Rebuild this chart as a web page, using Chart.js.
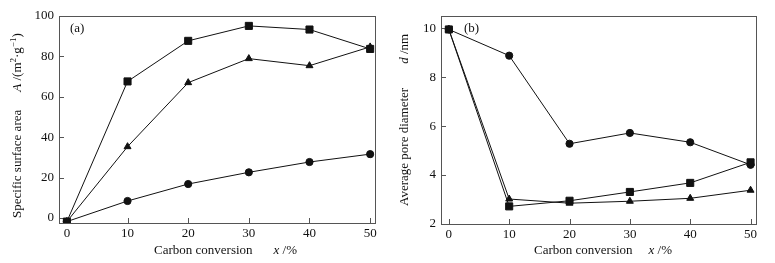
<!DOCTYPE html>
<html>
<head>
<meta charset="utf-8">
<script src="https://cdn.jsdelivr.net/npm/chart.js@4/dist/chart.umd.min.js"></script>
<style>
  html, body { margin: 0; padding: 0; background: #fff; }
  #wrap { position: relative; width: 775px; height: 263px; }
  canvas { position: absolute; top: 0; }
  #chartA { left: 0; }
  #chartB { left: 390px; }
</style>
</head>
<body>
<div id="wrap">
  <canvas id="chartA" width="390" height="263"></canvas>
  <canvas id="chartB" width="385" height="263"></canvas>
</div>
<script>
// shared x values (carbon conversion, %)
const conversion = [0, 10, 20, 30, 40, 50];
const xTickValues = [0, 10, 20, 30, 40, 50];

// (a) specific surface area, m2/g
const areaSquare = [-1.8, 67.6, 87.7, 95.1, 93.3, 83.7];
const areaTriangle = [-1.8, 35.3, 67.0, 78.9, 75.4, 84.7];
const areaCircle = [-1.8, 8.4, 16.8, 22.6, 27.7, 31.6];
const areaTicks = [0, 20, 40, 60, 80, 100];

// (b) average pore diameter, nm
const poreCircle = [9.95, 8.88, 5.28, 5.72, 5.34, 4.42];
const poreSquare = [9.95, 2.72, 2.95, 3.31, 3.68, 4.52];
const poreTriangle = [9.95, 3.02, 2.85, 2.93, 3.05, 3.38];
const poreTicks = [2, 4, 6, 8, 10];

const FONT = "'Liberation Serif', 'DejaVu Serif', serif";
const INK = "#111";

// draws box, inward ticks, and the mixed-style titles
const framePlugin = {
  id: "frame",
  beforeDatasetsDraw(chart) {
    const { ctx, chartArea: a, scales } = chart;
    ctx.save();
    ctx.strokeStyle = "#555";
    ctx.lineWidth = 1;
    ctx.strokeRect(a.left + 0.5, a.top + 0.5, a.right - a.left, a.bottom - a.top);
    ctx.beginPath();
    scales.x.ticks.forEach((t) => {
      const px = Math.round(scales.x.getPixelForValue(t.value)) + 0.5;
      ctx.moveTo(px, a.bottom);
      ctx.lineTo(px, a.bottom - 5);
    });
    scales.y.ticks.forEach((t) => {
      const py = Math.round(scales.y.getPixelForValue(t.value)) + 0.5;
      ctx.moveTo(a.left, py);
      ctx.lineTo(a.left + 5, py);
    });
    ctx.stroke();
    ctx.restore();
  },
  afterDraw(chart) {
    const opts = chart.options.plugins.frame;
    const ctx = chart.ctx;
    ctx.save();
    ctx.fillStyle = INK;
    ctx.textBaseline = "middle";
    ctx.font = "13px " + FONT;
    ctx.fillText(opts.panel, opts.panelPos[0], opts.panelPos[1]);
    drawRich(ctx, opts.xTitle, opts.xTitlePos[0], opts.xTitlePos[1], false);
    drawRich(ctx, opts.yTitle, opts.yTitlePos[0], opts.yTitlePos[1], true);
    ctx.restore();
  },
};

function drawRich(ctx, parts, x, y, rotated) {
  ctx.save();
  ctx.translate(x, y);
  if (rotated) ctx.rotate(-Math.PI / 2);
  let cx = 0;
  parts.forEach((p) => {
    if (p.gap) { cx += p.gap; return; }
    const size = p.sup ? 9 : 13;
    ctx.font = (p.it ? "italic " : "") + size + "px " + FONT;
    ctx.fillText(p.t, cx, p.sup ? -4 : 0);
    cx += ctx.measureText(p.t).width;
  });
  ctx.restore();
}

function makeChart(id, cfg) {
  const marker = (style, r) => ({
    pointStyle: style,
    pointRadius: r,
    pointHoverRadius: r,
    pointBackgroundColor: INK,
    pointBorderColor: INK,
    pointBorderWidth: 1,
    borderColor: INK,
    borderWidth: 1,
    fill: false,
    tension: 0,
  });
  return new Chart(document.getElementById(id), {
    type: "line",
    data: {
      labels: conversion,
      datasets: cfg.series.map((s) => ({
        data: conversion.map((x, i) => ({ x, y: s.data[i] })),
        ...marker(s.style, s.r),
      })),
    },
    options: {
      responsive: false,
      animation: false,
      layout: { padding: { top: 16, right: cfg.padRight, left: 0, bottom: 0 } },
      plugins: {
        legend: { display: false },
        tooltip: { enabled: false },
        frame: cfg.frame,
      },
      scales: {
        x: {
          type: "linear",
          min: cfg.xMin,
          max: cfg.xMax,
          grid: { display: false, drawTicks: false },
          border: { display: false },
          afterBuildTicks: (s) => { s.ticks = xTickValues.map((v) => ({ value: v })); },
          afterFit: (s) => { s.height = cfg.xAxisH; },
          ticks: { color: INK, font: { family: FONT, size: 13 }, padding: 3, maxRotation: 0 },
        },
        y: {
          type: "linear",
          min: cfg.yMin,
          max: cfg.yMax,
          grid: { display: false, drawTicks: false },
          border: { display: false },
          afterBuildTicks: (s) => { s.ticks = cfg.yTicks.map((v) => ({ value: v })); },
          afterFit: (s) => { s.width = cfg.yAxisW; },
          ticks: { color: INK, font: { family: FONT, size: 13 }, padding: 5 },
        },
      },
    },
    plugins: [framePlugin],
  });
}

makeChart("chartA", {
  series: [
    { data: areaSquare, style: "rect", r: 5 },
    { data: areaTriangle, style: "triangle", r: 4 },
    { data: areaCircle, style: "circle", r: 3.6 },
  ],
  xMin: -1.3, xMax: 50.8,
  yMin: -2.5, yMax: 100,
  yTicks: areaTicks,
  padRight: 15, xAxisH: 40, yAxisW: 59,
  frame: {
    panel: "(a)", panelPos: [70, 29],
    xTitle: [{ t: "Carbon conversion" }, { gap: 21 }, { t: "x", it: true }, { t: " /%" }],
    xTitlePos: [154, 251],
    yTitle: [{ t: "Specific surface area" }, { gap: 18 }, { t: "A", it: true }, { t: " /(m" }, { t: "2", sup: true },
      { t: "·g" }, { t: "−1", sup: true }, { t: ")" }],
    yTitlePos: [18, 218],
  },
});

makeChart("chartB", {
  series: [
    { data: poreCircle, style: "circle", r: 3.6 },
    { data: poreSquare, style: "rect", r: 5 },
    { data: poreTriangle, style: "triangle", r: 4 },
  ],
  xMin: -1.3, xMax: 50.9,
  yMin: 2, yMax: 10.5,
  yTicks: poreTicks,
  padRight: 19, xAxisH: 39, yAxisW: 51,
  frame: {
    panel: "(b)", panelPos: [74, 29],
    xTitle: [{ t: "Carbon conversion" }, { gap: 16 }, { t: "x", it: true }, { t: " /%" }],
    xTitlePos: [144, 251],
    yTitle: [{ t: "Average pore diameter" }, { gap: 24 }, { t: "d", it: true }, { t: " /nm" }],
    yTitlePos: [15, 206],
  },
});
</script>
</body>
</html>
